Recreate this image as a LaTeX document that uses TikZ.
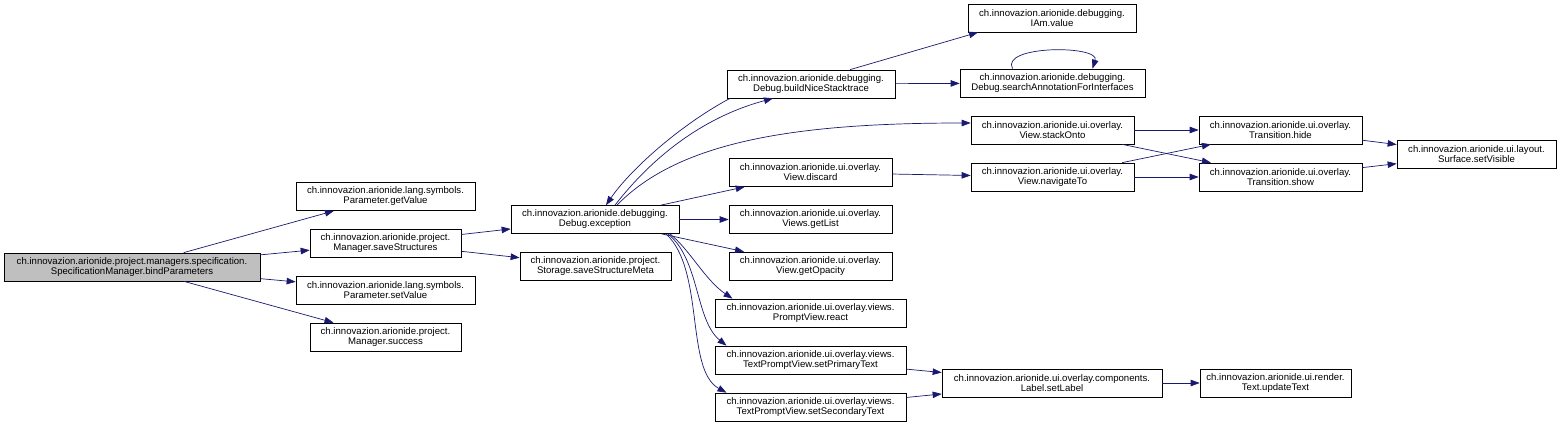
\documentclass[tikz,border=0pt]{standalone}
\usepackage{fontspec}
\setmainfont{Liberation Sans}
\usetikzlibrary{arrows.meta}
\definecolor{edgeblue}{HTML}{191970}
\definecolor{rootgray}{HTML}{BFBFBF}

\begin{document}
\begin{tikzpicture}[x=1pt, y=-1pt,
    fn/.style={draw, line width=0.7pt, fill=white, minimum height=28pt, inner sep=1pt,
        align=center, font=\fontsize{9.6pt}{10pt}\selectfont},
    rootfn/.style={fn, fill=rootgray},
    call/.style={draw=edgeblue, line width=0.7pt, -{Triangle[length=9pt, width=6.5pt]}}]
    \useasboundingbox (0,0) rectangle (1560,426);

    % caller
    \node[rootfn, minimum width=256pt] (bind) at (132,267) {ch.innovazion.arionide.project.managers.specification.\\SpecificationManager.bindParameters};

    % first column
    \node[fn, minimum width=179pt] (getValue) at (385.5,196.5) {ch.innovazion.arionide.lang.symbols.\\Parameter.getValue};
    \node[fn, minimum width=151pt] (saveStructures) at (385.5,243) {ch.innovazion.arionide.project.\\Manager.saveStructures};
    \node[fn, minimum width=179pt] (setValue) at (385.5,290) {ch.innovazion.arionide.lang.symbols.\\Parameter.setValue};
    \node[fn, minimum width=151pt] (success) at (385.5,337) {ch.innovazion.arionide.project.\\Manager.success};

    % second column
    \node[fn, minimum width=168pt] (exception) at (595,219.5) {ch.innovazion.arionide.debugging.\\Debug.exception};
    \node[fn, minimum width=151pt] (saveMeta) at (595.5,266) {ch.innovazion.arionide.project.\\Storage.saveStructureMeta};

    % third column
    \node[fn, minimum width=168pt] (buildTrace) at (811,84) {ch.innovazion.arionide.debugging.\\Debug.buildNiceStacktrace};
    \node[fn, minimum width=163pt] (discard) at (810.5,172.5) {ch.innovazion.arionide.ui.overlay.\\View.discard};
    \node[fn, minimum width=163pt] (getList) at (810.5,219.5) {ch.innovazion.arionide.ui.overlay.\\Views.getList};
    \node[fn, minimum width=163pt] (getOpacity) at (810.5,266) {ch.innovazion.arionide.ui.overlay.\\View.getOpacity};
    \node[fn, minimum width=191pt] (react) at (810.5,313) {ch.innovazion.arionide.ui.overlay.views.\\PromptView.react};
    \node[fn, minimum width=191pt] (setPrimary) at (810.5,360) {ch.innovazion.arionide.ui.overlay.views.\\TextPromptView.setPrimaryText};
    \node[fn, minimum width=191pt] (setSecondary) at (810.5,407) {ch.innovazion.arionide.ui.overlay.views.\\TextPromptView.setSecondaryText};

    % fourth column
    \node[fn, minimum width=168pt] (iamValue) at (1052,18) {ch.innovazion.arionide.debugging.\\IAm.value};
    \node[fn, minimum width=185pt] (searchAnno) at (1052.5,83) {ch.innovazion.arionide.debugging.\\Debug.searchAnnotationForInterfaces};
    \node[fn, minimum width=163pt] (stackOnto) at (1052.5,130) {ch.innovazion.arionide.ui.overlay.\\View.stackOnto};
    \node[fn, minimum width=163pt] (navigateTo) at (1052.5,177) {ch.innovazion.arionide.ui.overlay.\\View.navigateTo};
    \node[fn, minimum width=220pt] (setLabel) at (1052,383) {ch.innovazion.arionide.ui.overlay.components.\\Label.setLabel};

    % fifth and sixth column
    \node[fn, minimum width=163pt] (hide) at (1280.5,130) {ch.innovazion.arionide.ui.overlay.\\Transition.hide};
    \node[fn, minimum width=163pt] (show) at (1280.5,177) {ch.innovazion.arionide.ui.overlay.\\Transition.show};
    \node[fn, minimum width=151pt] (updateText) at (1275.5,383) {ch.innovazion.arionide.ui.render.\\Text.updateText};
    \node[fn, minimum width=159pt] (setVisible) at (1476.5,154.5) {ch.innovazion.arionide.ui.layout.\\Surface.setVisible};

    % calls
    \draw[call] (bind) -- (getValue);
    \draw[call] (bind) -- (saveStructures);
    \draw[call] (bind) -- (setValue);
    \draw[call] (bind) -- (success);
    \draw[call] (saveStructures) -- (exception);
    \draw[call] (saveStructures) -- (saveMeta);

    \draw[call] ([xshift=20pt]exception.north) .. controls (650,160) and (700,118) .. ([xshift=-38pt]buildTrace.south);
    \draw[call] ([xshift=-81pt]buildTrace.south) .. controls (680,125) and (630,170) .. ([xshift=11pt]exception.north);
    \draw[call] ([xshift=22pt]exception.north) .. controls (680,140) and (800,123) .. ([yshift=7pt]stackOnto.west);
    \draw[call] (exception) -- (discard);
    \draw[call] (exception) -- (getList);
    \draw[call] (exception) -- (getOpacity);
    \draw[call] ([xshift=75pt]exception.south) .. controls (690,250) and (705,280) .. ([xshift=-78pt]react.north);
    \draw[call] ([xshift=73pt]exception.south) .. controls (700,260) and (695,320) .. ([xshift=-84pt]setPrimary.north);
    \draw[call] ([xshift=71pt]exception.south) .. controls (705,270) and (685,370) .. ([xshift=-84pt]setSecondary.north);

    \draw[call] ([xshift=39pt]buildTrace.north) -- ([xshift=-74pt]iamValue.south);
    \draw[call] (buildTrace) -- (searchAnno);
    \draw[call] ([xshift=-40pt]searchAnno.north) .. controls (1000,45) and (1100,45) .. ([xshift=40pt]searchAnno.north);
    \draw[call] (discard) -- (navigateTo);

    \draw[call] (stackOnto) -- (hide);
    \draw[call] (stackOnto) -- (show);
    \draw[call] (navigateTo) -- (hide);
    \draw[call] (navigateTo) -- (show);
    \draw[call] (hide) -- (setVisible);
    \draw[call] (show) -- (setVisible);

    \draw[call] (setPrimary) -- (setLabel);
    \draw[call] (setSecondary) -- (setLabel);
    \draw[call] (setLabel) -- (updateText);
\end{tikzpicture}
\end{document}
